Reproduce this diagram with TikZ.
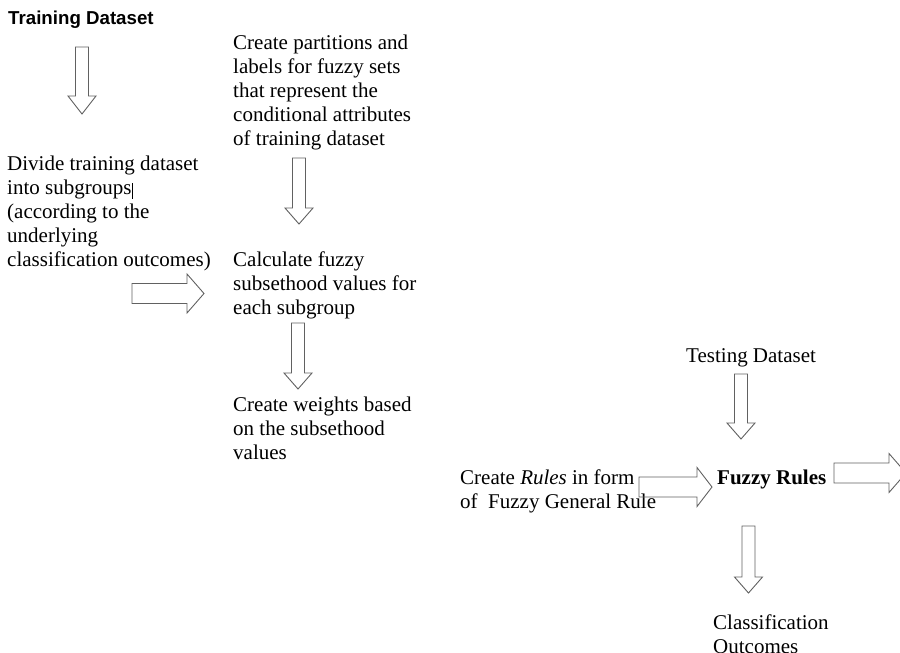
\documentclass[tikz,border=0pt]{standalone}
\usepackage{fontspec}
\setmainfont{Liberation Serif}
\newfontfamily\arialfont{Liberation Sans}
\begin{document}
\begin{tikzpicture}[x=1pt,y=-1pt,
  txt/.style={anchor=north west,inner sep=0pt,align=left,font=\fontsize{21}{24}\selectfont},
  blk/.style={draw=black!62,line width=0.9pt,line join=miter}]
\useasboundingbox (0,0) rectangle (900,653);
\newcommand\darrow[4]{\draw[blk] (#1-6.5,#2) -- (#1+6.5,#2) -- (#1+6.5,#3) -- (#1+14,#3) -- (#1,#4) -- (#1-14,#3) -- (#1-6.5,#3) -- cycle;}
\newcommand\rarrow[4]{\draw[blk] (#2,#1-10) -- (#3,#1-10) -- (#3,#1-19.5) -- (#4,#1) -- (#3,#1+19.5) -- (#3,#1+10) -- (#2,#1+10) -- cycle;}
% texts
\node[txt,font=\arialfont\bfseries\fontsize{18.7}{22}\selectfont] (train) at (8,11) {Training Dataset};
\node[txt] (part) at (233,35) {Create partitions and\\labels for fuzzy sets\\that represent the\\conditional attributes\\of training dataset};
\node[txt] (divide) at (7,155.5) {Divide training dataset\\into subgroups\\(according to the\\underlying\\classification outcomes)};
\node[txt] (calc) at (233,252) {Calculate fuzzy\\subsethood values for\\each subgroup};
\node[txt] (weights) at (233,397) {Create weights based\\on the subsethood\\values};
\node[txt] (testing) at (686,348.5) {Testing Dataset};
\node[txt] (create) at (460,469.5) {Create \textit{Rules} in form\\of\ \ Fuzzy General Rule};
\node[txt,font=\bfseries\fontsize{21}{24}\selectfont] (fuzzy) at (717,469.5) {Fuzzy Rules};
\node[txt] (outc) at (713,614.5) {Classification\\Outcomes};
% text cursor
\draw[black,line width=1pt] (132.5,183) -- (132.5,199);
% block arrows
\darrow{82}{47}{96}{114}
\darrow{299}{158}{208}{224}
\darrow{298}{323}{373}{389}
\darrow{741}{374}{423}{439}
\darrow{748.5}{526}{577}{593}
\rarrow{293.5}{132}{187}{204}
\rarrow{487}{639}{697}{712}
\rarrow{473}{834}{889}{906}
\end{tikzpicture}
\end{document}
